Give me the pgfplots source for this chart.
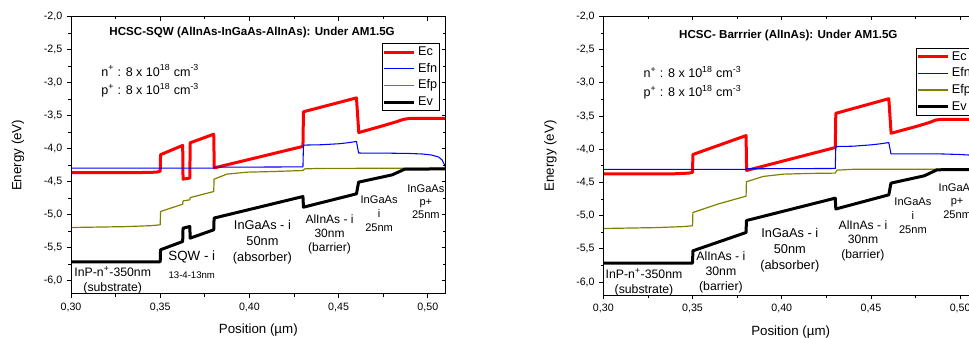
\documentclass[border=0pt]{standalone}
\usepackage{fontspec}
\setmainfont{Liberation Sans}
\usepackage{pgfplots}
\pgfplotsset{compat=1.18}
\definecolor{olivec}{RGB}{128,128,0}
\newcommand\fs[2]{\fontsize{#1}{#2}\selectfont}
\pgfplotsset{
  band/.style={
    scale only axis, width=281pt,
    xmin=0.30, xmax=0.51, ymin=-6.2, ymax=-2.0,
    xtick={0.30,0.35,0.40,0.45,0.50},
    ytick={-6.0,-5.5,-5.0,-4.5,-4.0,-3.5,-3.0,-2.5,-2.0},
    minor x tick num=1, minor y tick num=1,
    tick align=outside, tick pos=left,
    major tick length=3pt, minor tick length=2pt,
    axis line style={line width=0.75pt},
    every tick/.style={black, line width=0.6pt},
    /pgf/number format/assume math mode=true,
    x tick label style={font=\fs{8}{9.5}, /pgf/number format/.cd, fixed, fixed zerofill, precision=2, use comma, /tikz/.cd},
    y tick label style={font=\fs{8}{9.5}, /pgf/number format/.cd, fixed, fixed zerofill, precision=1, use comma, /tikz/.cd},
    xlabel={Position (µm)}, ylabel={Energy (eV)},
    label style={font=\fs{10}{12}},
    xlabel style={at={(axis description cs:0.5,-0.130)}, anchor=center},
    ylabel style={at={(axis description cs:-0.1414,0.5)}, anchor=center},
    legend image code/.code={\draw[#1] (0pt,0pt) -- (22.5pt,0pt);},
    legend cell align=left,
    legend style={draw=black, line width=0.75pt, inner sep=0pt, fill=white,
      font=\fs{9.5}{11}, anchor=north west,
      nodes={inner sep=1.75pt, text height=7pt, text depth=2pt, line width=0.75pt}},
  },
  mirror/.style={
    scale only axis, width=281pt,
    xmin=0.30, xmax=0.51, ymin=-6.2, ymax=-2.0,
    xtick={0.30,0.35,0.40,0.45,0.50},
    ytick={-6.0,-5.5,-5.0,-4.5,-4.0,-3.5,-3.0,-2.5,-2.0},
    minor x tick num=1, minor y tick num=1,
    tick align=inside, tick pos=right,
    major tick length=3pt, minor tick length=2pt,
    axis line style={line width=0.75pt},
    every tick/.style={black, line width=0.6pt},
    xticklabels={}, yticklabels={},
  },
  ec/.style={red, line width=2.25pt, line join=round},
  efn/.style={blue, line width=0.8pt, line join=round},
  efp/.style={olivec, line width=0.9pt, line join=round},
  ev/.style={black, line width=2.25pt, line join=round},
}
\begin{document}
\begin{tikzpicture}
\useasboundingbox (0pt,0pt) rectangle (726.75pt,253.5pt);
\clip (0pt,0pt) rectangle (726.75pt,253.5pt);
% ---------------- Left panel ----------------
\begin{axis}[band, at={(53.25pt,33pt)}, anchor=south west, height=208pt,
  legend style={at={(0.831,0.904)}}]
\addplot[ec] coordinates {(0.300,-4.36) (0.340,-4.36) (0.348,-4.355) (0.3500,-4.34) (0.3502,-4.09) (0.3626,-3.95) (0.3628,-4.46) (0.3666,-4.445) (0.3668,-3.91) (0.3800,-3.78) (0.3803,-4.29) (0.4300,-3.965) (0.4303,-3.44) (0.4600,-3.23) (0.4613,-3.755) (0.4751,-3.65) (0.4826,-3.59) (0.4864,-3.555) (0.490,-3.54) (0.510,-3.54)};
\addlegendentry{Ec}
\addplot[efn] coordinates {(0.300,-4.295) (0.380,-4.295) (0.3803,-4.28) (0.4300,-4.275) (0.4303,-3.945) (0.440,-3.94) (0.450,-3.925) (0.455,-3.91) (0.4600,-3.89) (0.4612,-4.065) (0.480,-4.068) (0.490,-4.072) (0.497,-4.08) (0.502,-4.095) (0.506,-4.125) (0.508,-4.17) (0.5095,-4.25) (0.510,-4.29)};
\addlegendentry{Efn}
\addplot[efp] coordinates {(0.300,-5.193) (0.330,-5.18) (0.345,-5.165) (0.3500,-5.152) (0.3502,-4.95) (0.3626,-4.84) (0.3628,-4.79) (0.3666,-4.774) (0.3668,-4.74) (0.3800,-4.648) (0.3802,-4.46) (0.3873,-4.385) (0.3985,-4.355) (0.4135,-4.345) (0.4300,-4.33) (0.4310,-4.305) (0.440,-4.298) (0.510,-4.295)};
\addlegendentry{Efp}
\addplot[ev] coordinates {(0.300,-5.712) (0.3500,-5.712) (0.3502,-5.53) (0.3626,-5.405) (0.3628,-5.203) (0.3666,-5.178) (0.3668,-5.354) (0.3800,-5.228) (0.3802,-5.05) (0.4300,-4.724) (0.4303,-4.885) (0.4600,-4.683) (0.4612,-4.506) (0.4800,-4.396) (0.4870,-4.31) (0.510,-4.305)};
\addlegendentry{Ev}
\node[font=\bfseries\fs{8.7}{10}, anchor=base] at (axis cs:0.4015,-2.292) {HCSC-SQW (AlInAs-InGaAs-AlInAs): Under AM1.5G};
\node[font=\fs{9.4}{11}, anchor=base west] at (axis cs:0.3144,-2.90) {n\textsuperscript{+} : 8 x 10\textsuperscript{18} cm\textsuperscript{-3}};
\node[font=\fs{9.4}{11}, anchor=base west] at (axis cs:0.3144,-3.185) {p\textsuperscript{+} : 8 x 10\textsuperscript{18} cm\textsuperscript{-3}};
\node[font=\fs{9.2}{10.9}, align=center] at (axis cs:0.3234,-5.99) {InP-n\textsuperscript{+}-350nm\\(substrate)};
\node[font=\fs{10}{12}] at (axis cs:0.3677,-5.64) {SQW - i};
\node[font=\fs{7.2}{9}] at (axis cs:0.3677,-5.91) {13-4-13nm};
\node[font=\fs{9.6}{11.9}, align=center] at (axis cs:0.4073,-5.42) {InGaAs - i\\50nm\\(absorber)};
\node[font=\fs{9}{10.7}, align=center] at (axis cs:0.4449,-5.30) {AlInAs - i\\30nm\\(barrier)};
\node[font=\fs{8.3}{10.4}, align=center] at (axis cs:0.4727,-4.98) {InGaAs\\i\\25nm};
\node[font=\fs{8.3}{9.9}, align=center] at (axis cs:0.4989,-4.80) {InGaAs\\p+\\25nm};
\end{axis}
\begin{axis}[mirror, at={(53.25pt,33pt)}, anchor=south west, height=208pt]
\end{axis}
% ---------------- Right panel ----------------
\begin{axis}[band, at={(452.5pt,32pt)}, anchor=south west, height=209.25pt,
  legend style={at={(0.8345,0.887)}}]
\addplot[ec] coordinates {(0.300,-4.37) (0.340,-4.37) (0.348,-4.36) (0.3500,-4.35) (0.3502,-4.08) (0.3800,-3.795) (0.3803,-4.32) (0.4300,-3.975) (0.4303,-3.46) (0.4600,-3.24) (0.4613,-3.76) (0.4751,-3.66) (0.4826,-3.60) (0.4864,-3.56) (0.490,-3.55) (0.510,-3.55)};
\addlegendentry{Ec}
\addplot[efn] coordinates {(0.300,-4.305) (0.380,-4.305) (0.3803,-4.295) (0.4300,-4.29) (0.4303,-3.96) (0.440,-3.955) (0.450,-3.935) (0.455,-3.92) (0.4600,-3.90) (0.4612,-4.07) (0.480,-4.07) (0.490,-4.072) (0.500,-4.08) (0.506,-4.09) (0.510,-4.10)};
\addlegendentry{Efn}
\addplot[efp] coordinates {(0.300,-5.194) (0.330,-5.18) (0.345,-5.165) (0.3500,-5.153) (0.3502,-4.953) (0.3650,-4.82) (0.3800,-4.707) (0.3802,-4.49) (0.3896,-4.41) (0.4008,-4.376) (0.4150,-4.365) (0.4300,-4.36) (0.4310,-4.315) (0.440,-4.303) (0.510,-4.30)};
\addlegendentry{Efp}
\addplot[ev] coordinates {(0.300,-5.714) (0.3500,-5.714) (0.3502,-5.53) (0.3800,-5.254) (0.3802,-5.074) (0.4300,-4.737) (0.4303,-4.90) (0.4600,-4.687) (0.4612,-4.511) (0.4800,-4.40) (0.4870,-4.31) (0.510,-4.305)};
\addlegendentry{Ev}
\node[font=\bfseries\fs{8.7}{10}, anchor=base] at (axis cs:0.4037,-2.34) {HCSC- Barrrier (AlInAs): Under AM1.5G};
\node[font=\fs{9.4}{11}, anchor=base west] at (axis cs:0.320,-2.917) {n\textsuperscript{+} : 8 x 10\textsuperscript{18} cm\textsuperscript{-3}};
\node[font=\fs{9.4}{11}, anchor=base west] at (axis cs:0.320,-3.21) {p\textsuperscript{+} : 8 x 10\textsuperscript{18} cm\textsuperscript{-3}};
\node[font=\fs{9.2}{10.9}, align=center] at (axis cs:0.3228,-6.00) {InP-n\textsuperscript{+}-350nm\\(substrate)};
\node[font=\fs{9.2}{11.2}, align=center] at (axis cs:0.3659,-5.85) {AlInAs - i\\30nm\\(barrier)};
\node[font=\fs{9.6}{11.7}, align=center] at (axis cs:0.4045,-5.52) {InGaAs - i\\50nm\\(absorber)};
\node[font=\fs{9.1}{11}, align=center] at (axis cs:0.4455,-5.38) {AlInAs - i\\30nm\\(barrier)};
\node[font=\fs{8.3}{10.2}, align=center] at (axis cs:0.4735,-5.00) {InGaAs\\i\\25nm};
\node[font=\fs{8.3}{9.9}, align=center] at (axis cs:0.4983,-4.78) {InGaAs\\p+\\25nm};
\end{axis}
\begin{axis}[mirror, at={(452.5pt,32pt)}, anchor=south west, height=209.25pt]
\end{axis}
\end{tikzpicture}
\end{document}
